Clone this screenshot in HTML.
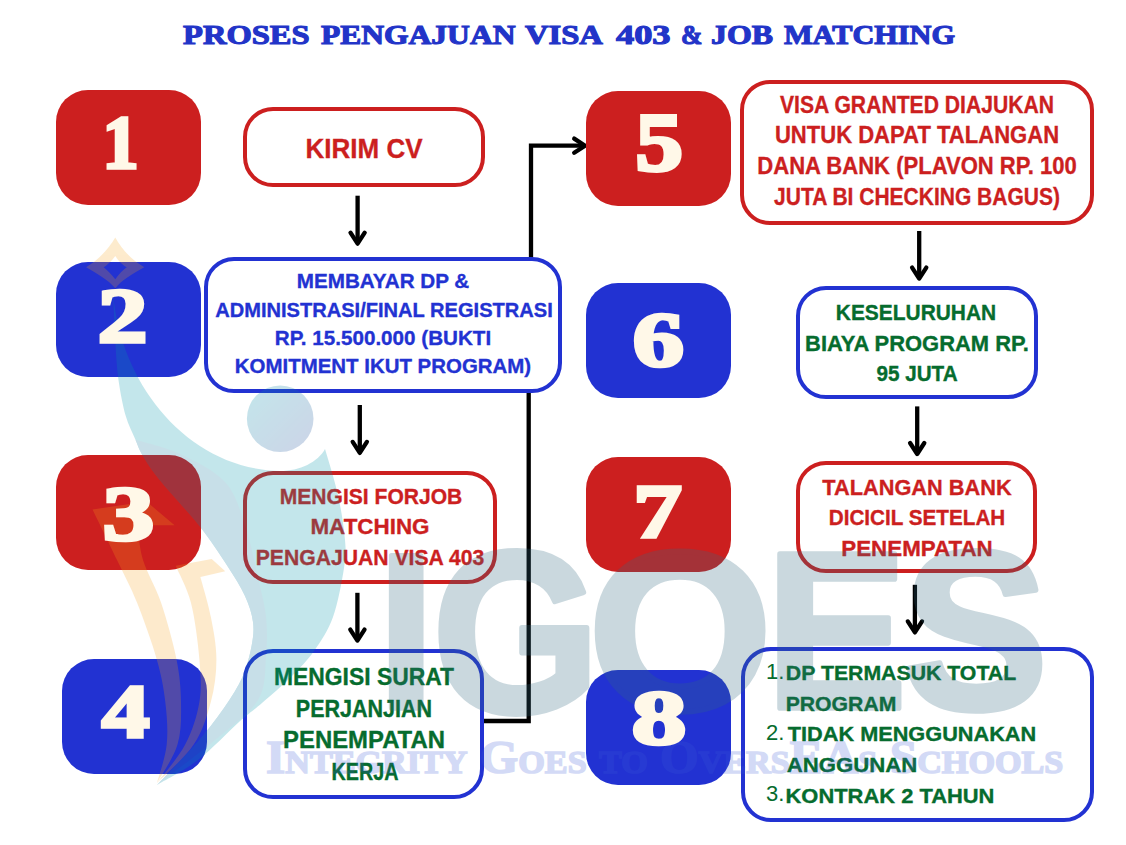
<!DOCTYPE html>
<html><head><meta charset="utf-8">
<style>
html,body{margin:0;padding:0;background:#fff;}
body{width:1126px;height:845px;position:relative;overflow:hidden;font-family:"Liberation Sans",sans-serif;}
.num{position:absolute;width:145px;height:115px;border-radius:32px;}
.nd{position:absolute;left:0;top:0;line-height:1;transform-origin:0 0;color:#fff8e8;font-family:"Liberation Serif",serif;font-weight:bold;font-size:86px;-webkit-text-stroke:4px #fff8e8;}
.tb{position:absolute;box-sizing:border-box;border:4.5px solid;border-radius:30px;background:#fff;}
.ln{position:absolute;width:800px;line-height:1;white-space:nowrap;text-align:center;font-weight:bold;transform-origin:50% 0;-webkit-text-stroke:0.35px currentColor;}
.nl{position:absolute;line-height:1;white-space:nowrap;font-weight:normal;color:#066c2e;}
.title{position:absolute;top:22px;line-height:1;font-family:"Liberation Serif",serif;font-weight:bold;font-size:29px;color:#2234c8;white-space:nowrap;transform-origin:0 0;-webkit-text-stroke:1.2px #2234c8;}
svg.ov{position:absolute;left:0;top:0;}
</style></head><body>
<div class="title" style="left:182.50px;transform:scale(1.1223,0.93);">PROSES</div>
<div class="title" style="left:321.00px;transform:scale(1.0872,0.93);">PENGAJUAN</div>
<div class="title" style="left:525.00px;transform:scale(1.1229,0.93);">VISA</div>
<div class="title" style="left:616.30px;transform:scale(1.2535,0.93);">403</div>
<div class="title" style="left:680.52px;transform:scale(0.8818,0.93);">&amp;</div>
<div class="title" style="left:711.40px;transform:scale(1.1000,0.93);">JOB</div>
<div class="title" style="left:783.80px;transform:scale(1.0439,0.93);">MATCHING</div>
<svg class="ov" width="1126" height="845" viewBox="0 0 1126 845"><g fill="none" stroke="#000" stroke-width="4.3" stroke-linecap="round" stroke-linejoin="round"><path d="M357.6,195.7 V241.7" stroke-linecap="butt"/><path d="M350.5,232.7 L357.6,243.7 L364.70000000000005,232.7"/><path d="M359.8,405 V450.9" stroke-linecap="butt"/><path d="M352.7,441.9 L359.8,452.9 L366.90000000000003,441.9"/><path d="M357.4,592.8 V638.6" stroke-linecap="butt"/><path d="M350.29999999999995,629.6 L357.4,640.6 L364.5,629.6"/><path d="M919.2,231 V276.6" stroke-linecap="butt"/><path d="M912.1,267.6 L919.2,278.6 L926.3000000000001,267.6"/><path d="M917.2,406.4 V452" stroke-linecap="butt"/><path d="M910.1,443 L917.2,454 L924.3000000000001,443"/><path d="M914.9,584.8 V630.4" stroke-linecap="butt"/><path d="M907.8,621.4 L914.9,632.4 L922.0,621.4"/><path d="M531,258 V145.7 H584" stroke-linejoin="miter" stroke-linecap="butt"/><path d="M483,721 H528.7 V392" stroke-linejoin="miter" stroke-linecap="butt"/><path d="M574.2,138.6 L585.1,145.7 L574.2,152.8"/></g></svg>
<div class="num" style="left:56px;top:90px;background:#cc1f1f;"></div>
<div class="num" style="left:56px;top:262px;background:#2232d2;"></div>
<div class="num" style="left:56px;top:455px;background:#cc1f1f;"></div>
<div class="num" style="left:62px;top:659px;background:#2232d2;"></div>
<div class="num" style="left:586px;top:91px;background:#cc1f1f;"></div>
<div class="num" style="left:586px;top:283px;background:#2232d2;"></div>
<div class="num" style="left:586px;top:457px;background:#cc1f1f;"></div>
<div class="num" style="left:586px;top:670px;background:#2232d2;"></div>
<div class="tb" style="left:243px;top:107px;width:242px;height:80px;border-color:#cc1f1f;"></div>
<div class="tb" style="left:204px;top:257px;width:358px;height:136px;border-color:#2232d2;"></div>
<div class="tb" style="left:243px;top:471px;width:254px;height:113px;border-color:#cc1f1f;"></div>
<div class="tb" style="left:243px;top:649px;width:241px;height:150px;border-color:#2232d2;"></div>
<div class="tb" style="left:740px;top:80px;width:354px;height:145px;border-color:#cc1f1f;"></div>
<div class="tb" style="left:796px;top:286px;width:242px;height:113px;border-color:#2232d2;"></div>
<div class="tb" style="left:796px;top:461px;width:241px;height:112px;border-color:#cc1f1f;"></div>
<div class="tb" style="left:741px;top:647px;width:353px;height:175px;border-color:#2232d2;"></div>
<div class="ln" id="T1a" style="left:-36.20px;top:134.03px;font-size:28.2px;color:#cc1f1f;transform:scaleX(0.9229);">KIRIM CV</div>
<div class="ln" id="T2a" style="left:-17.00px;top:271.06px;font-size:20.6px;color:#2232d2;transform:scaleX(1.0028);">MEMBAYAR DP &amp;</div>
<div class="ln" id="T2b" style="left:-16.30px;top:299.86px;font-size:20.6px;color:#2232d2;transform:scaleX(0.9747);">ADMINISTRASI/FINAL REGISTRASI</div>
<div class="ln" id="T2c" style="left:-16.70px;top:328.16px;font-size:20.6px;color:#2232d2;transform:scaleX(1.0015);">RP. 15.500.000 (BUKTI</div>
<div class="ln" id="T2d" style="left:-16.70px;top:356.46px;font-size:20.6px;color:#2232d2;transform:scaleX(0.9925);">KOMITMENT IKUT PROGRAM)</div>
<div class="ln" id="T3a" style="left:-28.90px;top:485.55px;font-size:21.8px;color:#cc1f1f;transform:scaleX(0.9671);">MENGISI FORJOB</div>
<div class="ln" id="T3b" style="left:-29.90px;top:516.25px;font-size:21.8px;color:#cc1f1f;transform:scaleX(1.0283);">MATCHING</div>
<div class="ln" id="T3c" style="left:-29.90px;top:547.15px;font-size:21.8px;color:#cc1f1f;transform:scaleX(0.9710);">PENGAJUAN VISA 403</div>
<div class="ln" id="T4a" style="left:-36.40px;top:666.12px;font-size:23.6px;color:#066c2e;transform:scaleX(0.9687);">MENGISI SURAT</div>
<div class="ln" id="T4b" style="left:-35.70px;top:697.72px;font-size:23.6px;color:#066c2e;transform:scaleX(0.9117);">PERJANJIAN</div>
<div class="ln" id="T4c" style="left:-36.20px;top:729.42px;font-size:23.6px;color:#066c2e;transform:scaleX(1.0115);">PENEMPATAN</div>
<div class="ln" id="T4d" style="left:-35.50px;top:760.92px;font-size:23.6px;color:#066c2e;transform:scaleX(0.8375);">KERJA</div>
<div class="ln" id="T5a" style="left:517.20px;top:94.28px;font-size:23.3px;color:#cc1f1f;transform:scaleX(0.9070);">VISA GRANTED DIAJUKAN</div>
<div class="ln" id="T5b" style="left:516.50px;top:124.08px;font-size:23.3px;color:#cc1f1f;transform:scaleX(0.9466);">UNTUK DAPAT TALANGAN</div>
<div class="ln" id="T5c" style="left:516.80px;top:154.98px;font-size:23.3px;color:#cc1f1f;transform:scaleX(0.9464);">DANA BANK (PLAVON RP. 100</div>
<div class="ln" id="T5d" style="left:516.80px;top:185.68px;font-size:23.3px;color:#cc1f1f;transform:scaleX(0.9016);">JUTA BI CHECKING BAGUS)</div>
<div class="ln" id="T6a" style="left:516.00px;top:301.75px;font-size:21.8px;color:#066c2e;transform:scaleX(0.9598);">KESELURUHAN</div>
<div class="ln" id="T6b" style="left:517.30px;top:332.75px;font-size:21.8px;color:#066c2e;transform:scaleX(1.0057);">BIAYA PROGRAM RP.</div>
<div class="ln" id="T6c" style="left:517.40px;top:363.05px;font-size:21.8px;color:#066c2e;transform:scaleX(0.9479);">95 JUTA</div>
<div class="ln" id="T7a" style="left:517.00px;top:476.75px;font-size:21.8px;color:#cc1f1f;transform:scaleX(0.9976);">TALANGAN BANK</div>
<div class="ln" id="T7b" style="left:517.40px;top:507.25px;font-size:21.8px;color:#cc1f1f;transform:scaleX(0.9490);">DICICIL SETELAH</div>
<div class="ln" id="T7c" style="left:516.90px;top:537.65px;font-size:21.8px;color:#cc1f1f;transform:scaleX(1.0244);">PENEMPATAN</div>
<div class="ln" id="T8a" style="left:501.10px;top:662.14px;font-size:21.1px;color:#066c2e;transform:scaleX(1.0079);">DP TERMASUK TOTAL</div>
<div class="ln" id="T8b" style="left:440.70px;top:692.84px;font-size:21.1px;color:#066c2e;transform:scaleX(1.0051);">PROGRAM</div>
<div class="ln" id="T8c" style="left:512.10px;top:723.44px;font-size:21.1px;color:#066c2e;transform:scaleX(1.0293);">TIDAK MENGGUNAKAN</div>
<div class="ln" id="T8d" style="left:452.20px;top:754.04px;font-size:21.1px;color:#066c2e;transform:scaleX(1.0516);">ANGGUNAN</div>
<div class="ln" id="T8e" style="left:490.40px;top:784.94px;font-size:21.1px;color:#066c2e;transform:scaleX(1.0385);">KONTRAK 2 TAHUN</div>
<div class="nl" style="left:766px;top:660.58px;font-size:22px;">1.</div>
<div class="nl" style="left:766px;top:721.88px;font-size:22px;">2.</div>
<div class="nl" style="left:766px;top:783.38px;font-size:22px;">3.</div>
<svg class="ov" width="1126" height="845" viewBox="0 0 1126 845" style="pointer-events:none">
<defs>
<linearGradient id="fg" gradientUnits="userSpaceOnUse" x1="300" y1="470" x2="190" y2="720">
<stop offset="0" stop-color="rgb(0,150,170)"/><stop offset="1" stop-color="rgb(38,72,155)"/>
</linearGradient>
<linearGradient id="hg" x1="0" y1="0" x2="1" y2="1">
<stop offset="0" stop-color="rgb(0,150,170)"/><stop offset="1" stop-color="rgb(38,72,155)"/>
</linearGradient>
</defs>
<g opacity="0.23"><path fill="rgb(0,150,170)" d="M113,290 C113.4,298.8 114.5,328.0 115.4,343 C116.3,358.0 116.8,367.9 118.5,380 C120.2,392.1 122.8,405.6 125.6,415.5 C128.4,425.4 132.7,433.1 135.5,439.7 C138.3,446.3 138.6,448.6 142.6,455.3 C146.6,462.0 150.2,468.2 159.7,480 C169.2,491.8 188.3,511.8 199.5,526 C210.7,540.2 219.2,553.3 226.8,565 C234.4,576.7 240.6,586.5 245,596 C249.4,605.5 251.9,613.7 253,622 C254.1,630.3 253.3,636.8 251.6,646 C249.8,655.2 247.1,666.7 242.5,677 C237.9,687.3 231.9,696.7 224,708 C216.1,719.3 206.2,732.2 195,745 C183.8,757.8 163.3,778.3 157,785 C163.8,780.8 184.3,770.5 198,760 C211.7,749.5 228.3,731.5 239,722 C249.7,712.5 253.3,710.5 262,703 C270.7,695.5 282.3,685.7 291,677 C299.7,668.3 307.0,661.0 314,651 C321.0,641.0 328.0,630.8 333,617 C338.0,603.2 342.0,580.8 344,568 C346.0,555.2 346.0,552.2 345,540 C344.0,527.8 341.3,510.2 338,495 C334.7,479.8 327.2,456.7 325,449 C318,462 300,471 280,471 C185.0,468.9 118.0,379.5 113,290 Z"/><path fill="rgb(20,120,160)" d="M135.5,439.7 C136.7,442.3 138.6,448.6 142.6,455.3 C146.6,462.0 150.2,468.2 159.7,480 C169.2,491.8 188.3,511.8 199.5,526 C210.7,540.2 219.2,553.3 226.8,565 C234.4,576.7 240.6,586.5 245,596 C249.4,605.5 251.9,613.7 253,622 C254.1,630.3 253.3,636.8 251.6,646 C249.8,655.2 247.1,666.7 242.5,677 C237.9,687.3 231.9,696.7 224,708 C216.1,719.3 206.2,732.2 195,745 C183.8,757.8 163.3,778.3 157,785 C166.7,777.5 198.2,754.2 215,740 C231.8,725.8 249.5,714.0 258,700 C266.5,686.0 264.7,669.8 266,656 C267.3,642.2 267.3,630.0 266,617 C264.7,604.0 261.5,593.3 258,578 C254.5,562.7 250.5,541.0 245,525 C239.5,509.0 235.8,493.8 225,482 C214.2,470.2 194.9,461.1 180,454 C165.1,446.9 142.9,442.1 135.5,439.7 Z"/>
<circle cx="280.2" cy="418.7" r="33.3" fill="url(#hg)"/></g>
<g fill="rgb(247,162,27)" opacity="0.22">
<path d="M92.5,509.5 L146.5,501.6 L174.6,525.2 L137.5,525.2 C138.4,531.0 139.1,547.1 143,560 C146.9,572.9 155.4,586.0 161,602.6 C166.6,619.2 173.2,642.8 176.5,659.4 C179.8,676.0 180.8,687.8 181,702 C181.2,716.2 181.5,731.1 177.5,744.6 C173.5,758.1 160.4,776.6 157,783 C158.6,776.6 165.3,758.1 166.7,744.6 C168.1,731.1 167.0,716.2 165.3,702 C163.7,687.8 161.5,676.0 156.8,659.4 C152.1,642.8 143.6,619.2 137,602.6 C130.4,586.0 124.4,575.5 117,560 C109.6,544.5 96.6,517.9 92.5,509.5 Z"/>
<path d="M175.7,565.7 L211.7,559 L225.2,571.3 L200.4,577 C202.1,583.6 208.1,603.1 210.8,616.8 C213.5,630.5 216.4,645.2 216.4,659.4 C216.4,673.6 214.6,687.8 210.8,702 C207.0,716.2 202.7,731.1 193.7,744.6 C184.7,758.1 163.1,776.6 157,783 C161.7,776.6 178.1,758.1 185.2,744.6 C192.3,731.1 197.0,716.2 199.4,702 C201.8,687.8 200.8,676.0 199.4,659.4 C198.0,642.8 194.9,618.2 190.9,602.6 C186.9,587.0 178.2,571.9 175.7,565.7 Z"/>
<path fill-rule="evenodd" d="M115.3,237.5 C122,250 132,260 144.3,267.3 C132,274 122,280 115.3,288.2 C108,280 98,274 86.1,267.3 C98,260 108,250 115.3,237.5 Z M115.3,256 C111,262 107,265 103.6,267.3 C107,270 111,274 115.3,279.2 C119,274 123,270 126.8,267.3 C123,265 119,262 115.3,256 Z"/>
</g>
<g fill="rgb(51,105,128)" stroke="rgb(51,105,128)" stroke-width="6" stroke-linejoin="round" opacity="0.255" font-family="Liberation Sans" font-weight="bold" font-size="238"><text transform="translate(377.72,708.20) scale(0.8600,0.9324)" x="0" y="0">I</text><text transform="translate(432.26,712.17) scale(0.9060,0.9655)" x="0" y="0">G</text><text transform="translate(587.92,710.23) scale(0.9965,0.9540)" x="0" y="0">O</text><text transform="translate(765.73,708.19) scale(0.8899,0.9379)" x="0" y="0">E</text><text transform="translate(903.35,709.26) scale(0.9122,0.9483)" x="0" y="0">S</text></g>
<text id="wsub" transform="translate(266.03,772.70) scale(1.0745,1.0000)" x="0" y="0" fill="rgb(60,90,215)" stroke="rgb(60,90,215)" stroke-width="1.6" opacity="0.22" font-family="Liberation Serif" font-weight="bold" font-size="46" style="font-variant:small-caps">Integrity Goes to OversEAs Schools</text>
</svg>
<div class="nd" id="d1" style="transform:translate(102.41px,103.34px) scale(0.8389,0.8968);">1</div>
<div class="nd" id="d2" style="transform:translate(97.64px,276.03px) scale(1.1550,0.9145);">2</div>
<div class="nd" id="d3" style="transform:translate(102.80px,475.00px) scale(1.1951,0.9000);">3</div>
<div class="nd" id="d4" style="transform:translate(101.81px,672.91px) scale(1.1089,0.8839);">4</div>
<div class="nd" id="d5" style="transform:translate(635.50px,101.99px) scale(1.1024,0.9468);">5</div>
<div class="nd" id="d6" style="transform:translate(632.81px,301.14px) scale(1.1905,0.9048);">6</div>
<div class="nd" id="d7" style="transform:translate(633.62px,472.89px) scale(1.1250,0.8934);">7</div>
<div class="nd" id="d8" style="transform:translate(631.73px,679.14px) scale(1.2683,0.9048);">8</div>
</body></html>
